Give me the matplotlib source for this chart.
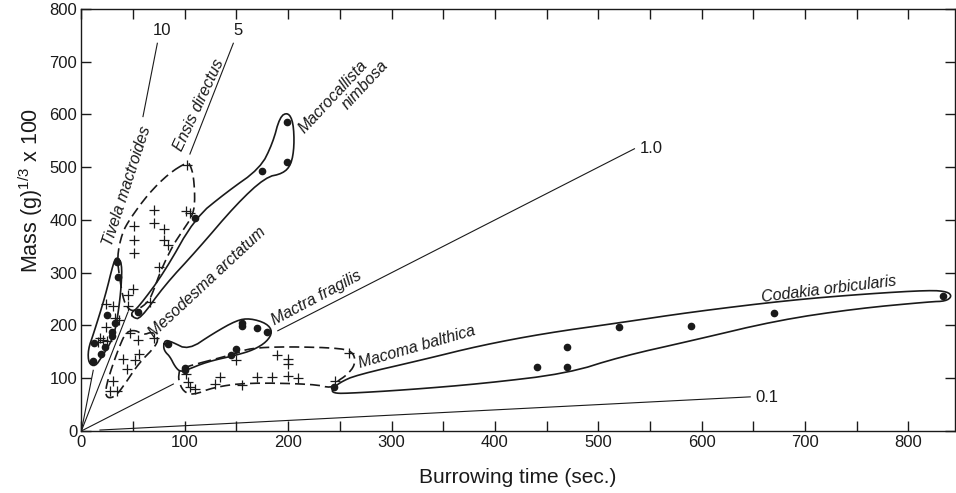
import matplotlib.pyplot as plt
import numpy as np

plt.rcParams['font.family'] = ['Liberation Sans', 'DejaVu Sans']
plt.rcParams['mathtext.fontset'] = 'custom'
plt.rcParams['mathtext.rm'] = 'Liberation Sans'
plt.rcParams['mathtext.it'] = 'Liberation Sans:italic'

# =========================================
# DATA
# =========================================

# lines of equal burrowing rate (mass / time), drawn from the origin
rate_slopes = [10, 5, 1.0, 0.1]
rate_labels = ['10', '5', '1.0', '0.1']
rate_segments = [[(0, 11.5), (59.6, 73.5)],
                 [(0, 45), (105, 147)],
                 [(0, 89), (190, 535)],
                 [(18, 647)]]
rate_label_xy = [(78, 760), (152, 760), (540, 536), (652, 64)]

# Tivela mactroides
tivela_dots_x = [34.8, 35.7, 24.5, 32.8, 29.3, 29.3, 12.2, 22.8, 18.7, 11.5]
tivela_dots_y = [320, 292, 220, 204, 188, 180, 167, 159, 146, 133]
tivela_cross_x = [24, 31, 33, 36, 24, 18, 21, 16, 25]
tivela_cross_y = [240, 236, 214, 210, 198, 176, 172, 168, 170]
tivela_out_x = [34.5, 39.3, 38.6, 36, 32.8, 28, 19.9, 13.5, 7, 6.4, 11.9, 23, 31.3]
tivela_out_y = [330, 318, 274, 229, 191, 166, 141, 122, 128, 154, 185, 255, 321]

# Ensis directus
ensis_cross_x = [102, 70, 101, 105, 70, 80, 80, 84, 51, 51, 51, 75, 66, 50, 45, 45]
ensis_cross_y = [504, 418, 417, 414, 395, 382, 362, 353, 389, 362, 337, 311, 244, 269, 258, 237]
ensis_out_x = [102.5, 84.5, 65, 47.3, 39.3, 34.5, 37, 41, 47, 54, 65, 70, 76.4, 87.7, 97.4, 107, 110, 108.7, 105.4]
ensis_out_y = [510, 488, 450, 403, 375, 330, 290, 245, 228, 229, 245, 267, 302, 349, 378, 406, 432, 482, 504]

# Macrocallista nimbosa
macro_dots_x = [199, 199, 174.5, 110, 55]
macro_dots_y = [586, 509, 493.5, 403, 226]
macro_out_x = [50, 48, 55, 80, 110, 140, 173, 185, 192, 200, 205, 206, 203, 195, 178, 150, 112, 80, 57]
macro_out_y = [215, 224, 234, 300, 404, 452, 498, 545, 596, 604, 585, 540, 505, 488, 481, 430, 343, 275, 212]

# Mesodesma arctatum
meso_cross_x = [47, 55, 70, 56, 52, 40, 44, 31, 28, 34]
meso_cross_y = [185, 172, 176, 146, 135, 136, 117, 95, 75, 75]
meso_out_x = [44, 52, 60, 68.3, 74, 73, 55.4, 42.5, 32.8, 24.8, 23, 29.6, 39.3]
meso_out_y = [188, 191.5, 182, 188, 179, 163, 128, 90, 65, 62, 78, 122, 172.5]

# Mactra fragilis
mactra_dots_x = [84, 155, 155, 169.6, 180, 149.6, 144.8, 100.3, 100.3]
mactra_dots_y = [165, 205, 199, 194.7, 188, 155, 144, 120, 115.6]
mactra_out_x = [79.3, 81, 87.4, 103.5, 127.6, 150.3, 163.2, 179.3, 185, 179.3, 166.4, 150.3, 121.3, 102, 95.4, 90.6, 85.7, 81]
mactra_out_y = [160, 172.5, 169, 153.6, 185, 210, 213.6, 204, 188, 169, 153.6, 144, 131, 115.6, 112.4, 122, 141, 150]

# Macoma balthica
macoma_cross_x = [101, 103.5, 110, 105, 129, 134, 155, 169.6, 184.7, 199.6, 210, 189, 200, 200, 259, 150, 245]
macoma_cross_y = [108, 93.5, 79, 83, 90, 103, 87, 103, 103, 104, 100, 144, 136, 127, 147, 134.6, 95]
macoma_out_x = [95.4, 150.3, 163, 198.7, 253.4, 263.8, 264.8, 256.8, 247, 242.2, 224.4, 160, 127.6, 108.3, 98.6, 93.8, 94.7]
macoma_out_y = [119, 147, 157, 160, 157, 147, 125, 106, 93.5, 81, 89, 91.6, 82.7, 68, 74.5, 96.7, 112.4]

# Codakia orbicularis
codakia_dots_x = [244.8, 440.6, 470, 470, 520, 590, 669.5, 833]
codakia_dots_y = [82.8, 122, 122, 160, 198, 199, 223, 255]
codakia_out_x = [242, 250, 266, 330, 386, 448, 520, 592, 685, 760, 821, 838, 842, 836, 821, 750, 674, 592, 522, 470, 389, 315, 255, 244]
codakia_out_y = [78, 92, 106, 135, 162, 185, 205, 226, 248, 260, 267, 264, 255, 246, 245, 232, 210, 172, 141, 109, 90, 78, 71, 72]

# species names: text, x, y, rotation
name_text = ['Tivela mactroides', 'Ensis directus', 'Macrocallista', 'nimbosa',
             'Mesodesma arctatum', 'Mactra fragilis', 'Macoma balthica', 'Codakia orbicularis']
name_x = [44.4, 113.8, 243, 274, 121.3, 227.7, 324.8, 723]
name_y = [464, 618, 634, 656, 283, 253, 160, 269]
name_rot = [72, 65, 47, 47, 43, 28, 16, 7]


def smooth(xs, ys, n=2):
    # corner cutting so the hand drawn outlines look round
    p = np.column_stack([xs, ys]).astype(float)
    for _ in range(n):
        q = np.roll(p, -1, axis=0)
        p = np.vstack([0.75 * p + 0.25 * q, 0.25 * p + 0.75 * q]).reshape(2, -1, 2).transpose(1, 0, 2).reshape(-1, 2)
    p = np.vstack([p, p[:1]])
    return p[:, 0], p[:, 1]


# =========================================
# FIGURE
# =========================================

fig = plt.figure(figsize=(9.56, 4.93), dpi=100)
ax = fig.add_axes([0.0851, 0.1258, 0.9138, 0.856])

ink = '#1a1a1a'
dash = (0, (6, 3))

for k, segs in zip(rate_slopes, rate_segments):
    for x0, x1 in segs:
        xs = np.array([x0, x1])
        ax.plot(xs, k * xs, color=ink, lw=0.8)

for lab, (tx, ty) in zip(rate_labels, rate_label_xy):
    ha = 'center' if lab in ('10', '5') else 'left'
    ax.text(tx, ty, lab, ha=ha, va='center', fontsize=12, color=ink)

outlines = [(tivela_out_x, tivela_out_y, '-'),
            (ensis_out_x, ensis_out_y, dash),
            (macro_out_x, macro_out_y, '-'),
            (meso_out_x, meso_out_y, dash),
            (mactra_out_x, mactra_out_y, '-'),
            (macoma_out_x, macoma_out_y, dash),
            (codakia_out_x, codakia_out_y, '-')]
for ox, oy, ls in outlines:
    sx, sy = smooth(ox, oy)
    ax.plot(sx, sy, color=ink, lw=1.2, ls=ls)

dots = [(tivela_dots_x, tivela_dots_y), (macro_dots_x, macro_dots_y),
        (mactra_dots_x, mactra_dots_y), (codakia_dots_x, codakia_dots_y)]
for dx, dy in dots:
    ax.plot(dx, dy, 'o', color=ink, ms=4.5, ls='none')

crosses = [(tivela_cross_x, tivela_cross_y), (ensis_cross_x, ensis_cross_y),
           (meso_cross_x, meso_cross_y), (macoma_cross_x, macoma_cross_y)]
for cx, cy in crosses:
    ax.plot(cx, cy, '+', color=ink, ms=7, mew=0.9, ls='none')

for t, x, y, r in zip(name_text, name_x, name_y, name_rot):
    ax.text(x, y, t, rotation=r, rotation_mode='anchor', ha='center', va='center',
            fontsize=11.5, style='italic', color=ink)

# =========================================
# AXES
# =========================================

ax.set_xlim(0, 845)
ax.set_ylim(0, 800)
ax.set_xticks(range(0, 801, 100))
ax.set_xticks(range(50, 801, 100), minor=True)
ax.set_yticks(range(0, 801, 100))
ax.tick_params(which='both', direction='in', length=7, width=1, color=ink,
               top=True, right=True, labelsize=12, labelcolor=ink, pad=3)
for s in ax.spines.values():
    s.set_color(ink)
    s.set_linewidth(1)

ax.set_xlabel('Burrowing time (sec.)', fontsize=15, color=ink, labelpad=13)
ax.set_ylabel(r'Mass (g)$^{1/3}$ x 100', fontsize=15.5, color=ink)
ax.yaxis.set_label_coords(-0.042, 0.57)

fig.savefig('out.png', dpi=100)
